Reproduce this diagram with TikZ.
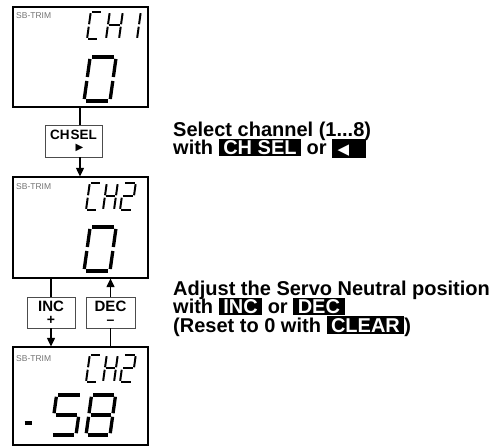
\documentclass[tikz,border=0pt]{standalone}
\usepackage{fontspec}
\setmainfont{Liberation Sans}
\newfontfamily\symfont{DejaVu Sans}
\usetikzlibrary{arrows.meta,positioning,calc}

% inverted key label in the running text
\newcommand\keylbl[1]{{\setlength{\fboxsep}{1.5bp}\colorbox{black}{\rule{0pt}{14.3bp}\hspace{3bp}\textcolor{white}{#1}\hspace{3bp}}}}
\newcommand\notefont{\fontsize{20bp}{18.5bp}\selectfont\bfseries\setlength{\lineskiplimit}{-30pt}}

% seven-segment character: [style] x, y, width, height, segments (0=a ... 6=g)
\newcommand\segchar[6][segsmall]{%
	\begin{scope}[#1, shift={(#2,#3)}, xslant=0.14]
		\pgfmathsetmacro\segw{#4}%
		\pgfmathsetmacro\segh{#5}%
		\pgfmathsetmacro\segg{0.045*#5}%
		\foreach \s in {#6}{%
			\ifcase\s
			\draw (\segg,\segh) -- (\segw-\segg,\segh);% a
			\or
			\draw (\segw,\segh-\segg) -- (\segw,\segh/2+\segg);% b
			\or
			\draw (\segw,\segh/2-\segg) -- (\segw,\segg);% c
			\or
			\draw (\segg,0) -- (\segw-\segg,0);% d
			\or
			\draw (0,\segg) -- (0,\segh/2-\segg);% e
			\or
			\draw (0,\segh/2+\segg) -- (0,\segh-\segg);% f
			\or
			\draw (\segg,\segh/2) -- (\segw-\segg,\segh/2);% g
			\fi
		}
	\end{scope}}

\begin{document}
\begin{tikzpicture}[
		x=1bp,y=1bp,
		>={Triangle[width=8bp,length=8.5bp]},
		lcd/.style={draw, line width=1.2bp, inner sep=0pt, minimum width=135bp},
		keybox/.style={draw=black!70, line width=0.6bp, inner sep=0pt, align=center,
			font=\fontsize{15bp}{13bp}\selectfont\bfseries},
		sbtrim/.style={text=black!55, font=\fontsize{8.5bp}{9bp}\selectfont, inner sep=0pt, anchor=west},
		segsmall/.style={line width=2bp},
		segbig/.style={line width=3.3bp},
		note/.style={align=left, anchor=north west, inner sep=0pt, font=\notefont},
		link/.style={line width=1.2bp}
		]
		\useasboundingbox (0,0) rectangle (499,447);
		
		% =========================
		% Displays
		% =========================
		\node[lcd, minimum height=100bp] (disp1) at (80.5,390) {};
		\node[lcd, minimum height=101bp] (disp2) at (80.5,219.5) {};
		\node[lcd, minimum height=98bp] (disp3) at (80.5,51) {};
		
		\node[sbtrim] (lbl1) at (16,431) {SB-TRIM};
		\node[sbtrim] (lbl2) at (16,260) {SB-TRIM};
		\node[sbtrim] (lbl3) at (16,88) {SB-TRIM};
		
		% CH1 / 0
		\segchar{87}{408}{11}{27}{0,3,4,5}
		\segchar{106}{408}{13}{27}{1,2,4,5,6}
		\segchar{126}{408}{11}{27}{1,2}
		\segchar[segbig]{84}{346}{26}{44}{0,1,2,3,4,5}
		
		% CH2 / 0
		\segchar{86}{237}{11}{27}{0,3,4,5}
		\segchar{103}{237}{11}{27}{1,2,4,5,6}
		\segchar{120}{237}{12}{27}{0,1,6,4,3}
		\segchar[segbig]{84}{176}{26}{44}{0,1,2,3,4,5}
		
		% CH2 / -58
		\segchar{86}{65}{11}{27}{0,3,4,5}
		\segchar{103}{65}{11}{27}{1,2,4,5,6}
		\segchar{120}{65}{12}{27}{0,1,6,4,3}
		\segchar[segbig]{20}{4}{11}{40}{6}
		\segchar[segbig]{51}{12}{25}{40}{0,5,6,2,3}
		\segchar[segbig]{86}{12}{24}{40}{0,1,2,3,4,5,6}
		
		% =========================
		% Keys and connectors
		% =========================
		\node[keybox, minimum width=57bp, minimum height=32bp,
		font=\fontsize{13.5bp}{11bp}\selectfont\bfseries] (chsel) at (73.5,306)
		{CH\hspace{1bp}SEL\\\hspace{12bp}{\symfont\fontsize{10bp}{10bp}\selectfont ▶}};
		\node[keybox, minimum width=48bp, minimum height=31bp] (inc) at (51,134.5)
		{INC\\{\fontsize{14bp}{11bp}\selectfont +}};
		\node[keybox, minimum width=49bp, minimum height=31bp] (dec) at (110.5,134.5)
		{DEC\\{\fontsize{14bp}{11bp}\selectfont –}};
		
		\coordinate (chline) at (80,0);
		\draw[link] (disp1.south -| chline) -- (chsel.north -| chline);
		\draw[link,->] (chsel.south -| chline) -- (disp2.north -| chline);
		
		\draw[link] (disp2.south -| inc) -- (inc.north);
		\draw[link,->] (inc.south) -- (disp3.north -| inc);
		\draw[link] (disp3.north -| dec) -- (dec.south);
		\draw[link,->] (dec.north) -- (disp2.south -| dec);
		
		% =========================
		% Right: instructions
		% =========================
		\node[note] (selnote) at (173,325.6) {
			Select channel (1...8)\\
			with \keylbl{CH SEL} or \keylbl{\hspace{1bp}{\symfont\fontsize{15bp}{15bp}\selectfont ◀}\hspace{12bp}}
		};
		\node[note] (adjnote) at (173,166.6) {
			Adjust the Servo Neutral position\\
			with \keylbl{INC} or \keylbl{DEC}\\
			(Reset to 0 with \keylbl{CLEAR})
		};
		
	\end{tikzpicture}
\end{document}
